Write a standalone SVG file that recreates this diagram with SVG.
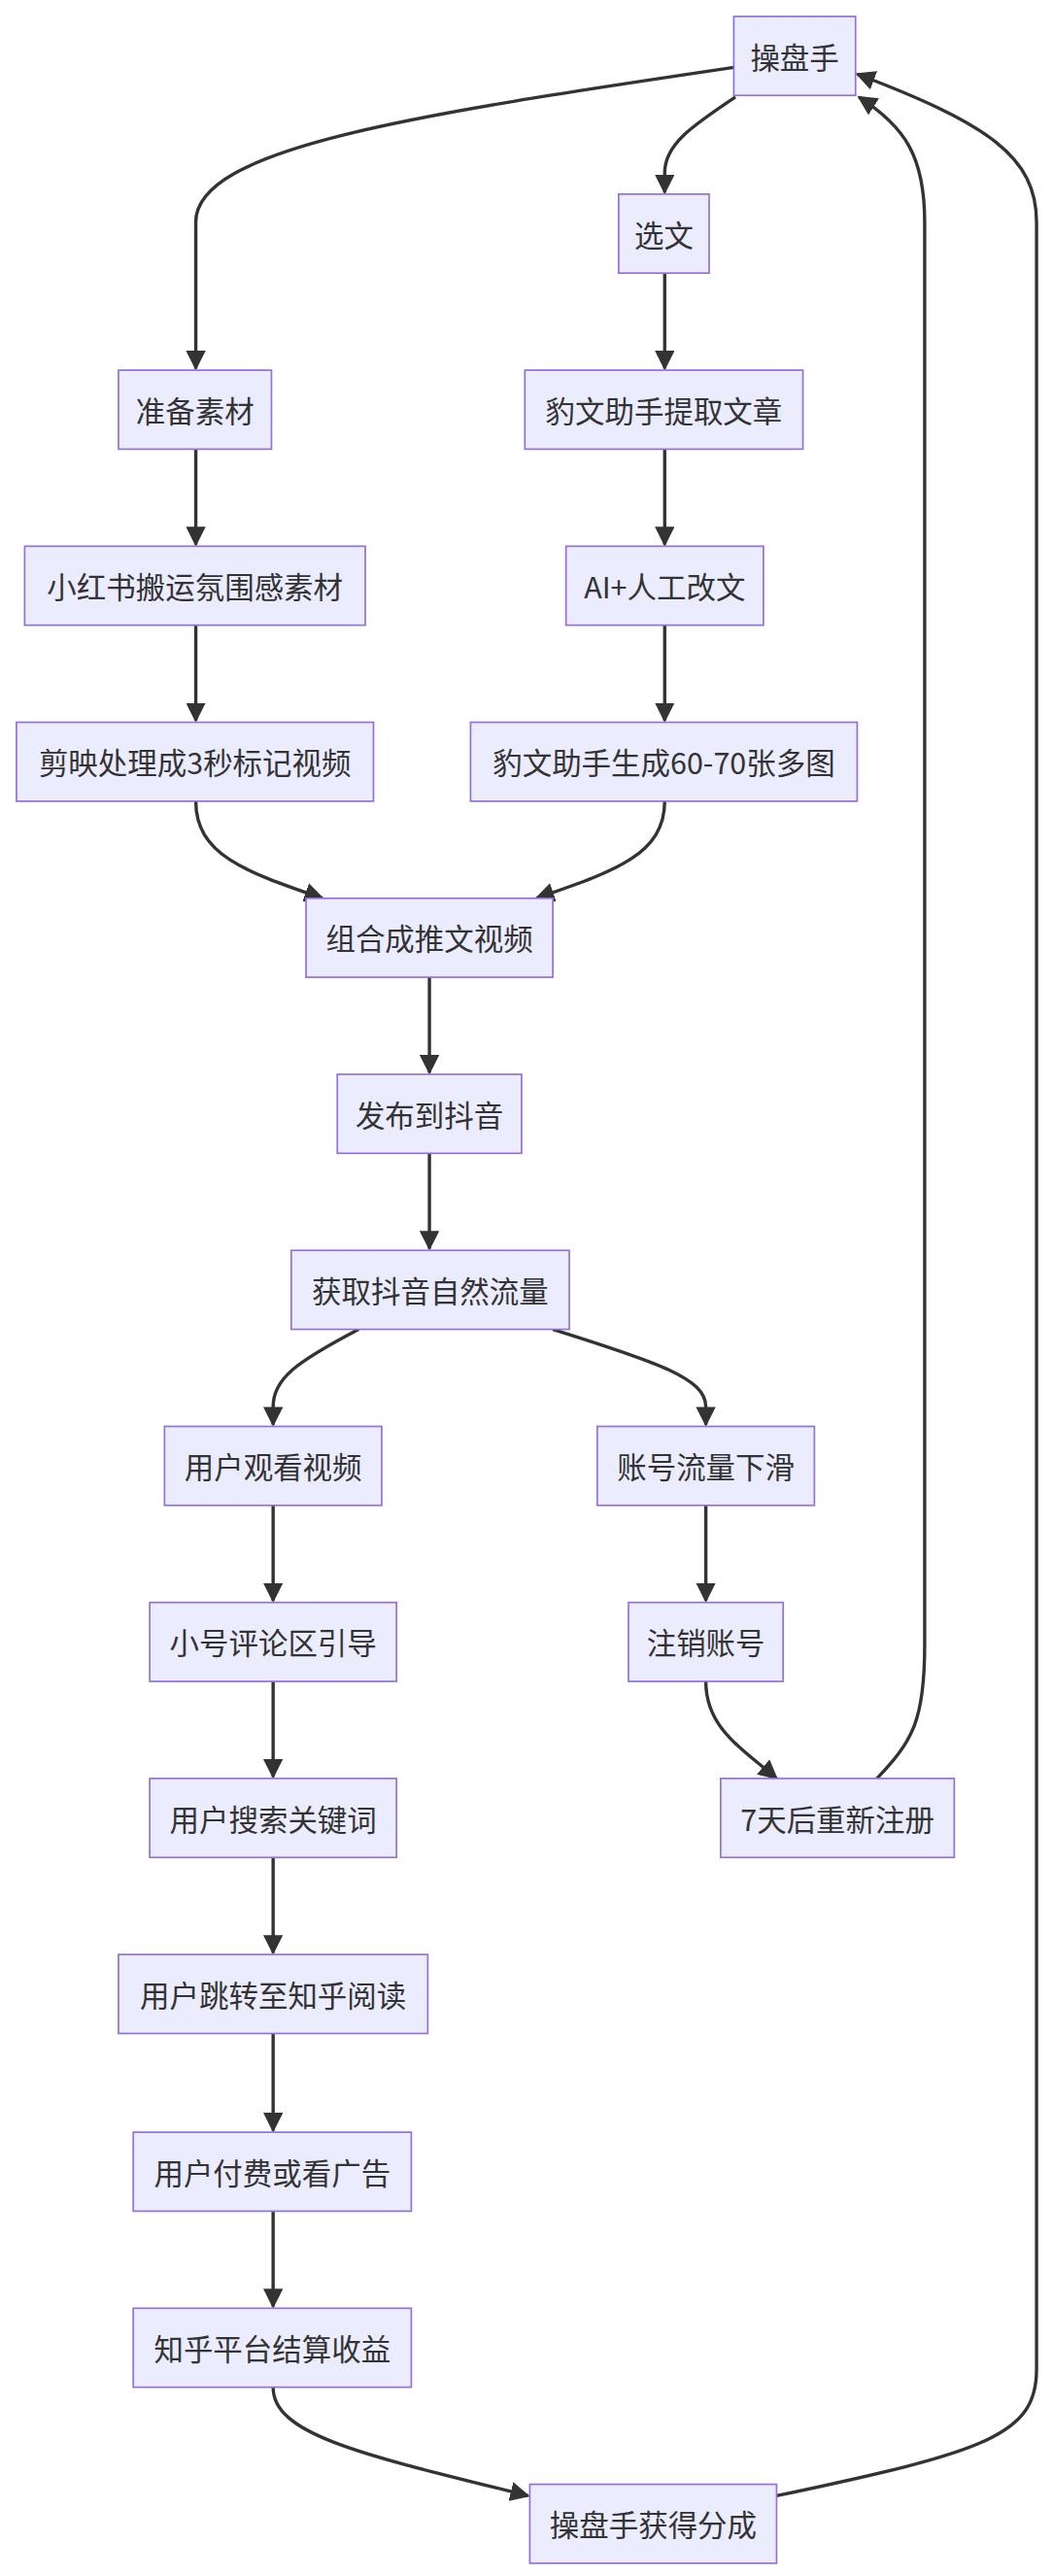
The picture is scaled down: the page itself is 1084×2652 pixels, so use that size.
<svg xmlns="http://www.w3.org/2000/svg" width="1084" height="2652" viewBox="0 0 1084 2652">
<style>
.n rect{fill:#ECECFF;stroke:#9370DB;stroke-width:1}
.n text{font-family:"Noto Sans CJK SC","Liberation Sans",sans-serif;font-size:18px;fill:#333;text-anchor:middle;dominant-baseline:central}
.e path{fill:none;stroke:#333;stroke-width:2}
</style>
<defs>
<marker id="a" viewBox="0 0 10 10" refX="9" refY="5" markerWidth="12" markerHeight="12" markerUnits="userSpaceOnUse" orient="auto"><path d="M0,0 L10,5 L0,10 z" fill="#333"/></marker>
</defs>
<rect width="1084" height="2652" fill="#fff"/>
<g transform="scale(1.69375)">
<g class="e" marker-end="url(#a)">
<path d="M446,41 C250,70 119,90 119,135 L119,224" marker-end="url(#a)"/>
<path d="M447,59 C420,77 404,88 404,105 L404,117" marker-end="url(#a)"/>
<path d="M404,166 L404,224" marker-end="url(#a)"/>
<path d="M404,273 L404,331" marker-end="url(#a)"/>
<path d="M404,380 L404,438" marker-end="url(#a)"/>
<path d="M119,273 L119,331" marker-end="url(#a)"/>
<path d="M119,380 L119,438" marker-end="url(#a)"/>
<path d="M119,487 C119,520 150,530 196,546" marker-end="url(#a)"/>
<path d="M404,487 C404,520 372,530 326,546" marker-end="url(#a)"/>
<path d="M261,594 L261,652" marker-end="url(#a)"/>
<path d="M261,701 L261,759" marker-end="url(#a)"/>
<path d="M218,808 C180,828 166,838 166,855 L166,866" marker-end="url(#a)"/>
<path d="M336,808 C400,828 429,838 429,855 L429,866" marker-end="url(#a)"/>
<path d="M166,915 L166,973" marker-end="url(#a)"/>
<path d="M166,1022 L166,1080" marker-end="url(#a)"/>
<path d="M166,1129 L166,1187" marker-end="url(#a)"/>
<path d="M166,1236 L166,1295" marker-end="url(#a)"/>
<path d="M166,1344 L166,1402" marker-end="url(#a)"/>
<path d="M429,915 L429,973" marker-end="url(#a)"/>
<path d="M429,1022 C429,1050 450,1062 472,1081" marker-end="url(#a)"/>
<path d="M533,1081 C555,1058 562,1045 562,1000 L562,135 C562,95 550,77 522,59" marker-end="url(#a)"/>
<path d="M166,1451 C166,1480 220,1492 321,1517" marker-end="url(#a)"/>
<path d="M472,1517 C600,1490 630,1480 630,1440 L630,135 C630,95 600,75 521,45" marker-end="url(#a)"/>
</g>
<g id="n1" class="n"><rect x="446" y="10" width="74" height="48"/><text x="483" y="34">操盘手</text></g>
<g id="n2" class="n"><rect x="376" y="118" width="55" height="48"/><text x="403.5" y="142">选文</text></g>
<g id="n3" class="n"><rect x="72" y="225" width="93" height="48"/><text x="118.5" y="249">准备素材</text></g>
<g id="n4" class="n"><rect x="319" y="225" width="169" height="48"/><text x="403.5" y="249">豹文助手提取文章</text></g>
<g id="n5" class="n"><rect x="15" y="332" width="207" height="48"/><text x="118.5" y="356">小红书搬运氛围感素材</text></g>
<g id="n6" class="n"><rect x="344" y="332" width="120" height="48"/><text x="404" y="356">AI+人工改文</text></g>
<g id="n7" class="n"><rect x="10" y="439" width="217" height="48"/><text x="118.5" y="463">剪映处理成3秒标记视频</text></g>
<g id="n8" class="n"><rect x="286" y="439" width="235" height="48"/><text x="403.5" y="463">豹文助手生成60-70张多图</text></g>
<g id="n9" class="n"><rect x="186" y="546" width="150" height="48"/><text x="261" y="570">组合成推文视频</text></g>
<g id="n10" class="n"><rect x="205" y="653" width="112" height="48"/><text x="261" y="677">发布到抖音</text></g>
<g id="n11" class="n"><rect x="177" y="760" width="169" height="48"/><text x="261.5" y="784">获取抖音自然流量</text></g>
<g id="n12" class="n"><rect x="100" y="867" width="132" height="48"/><text x="166" y="891">用户观看视频</text></g>
<g id="n13" class="n"><rect x="363" y="867" width="132" height="48"/><text x="429" y="891">账号流量下滑</text></g>
<g id="n14" class="n"><rect x="91" y="974" width="150" height="48"/><text x="166" y="998">小号评论区引导</text></g>
<g id="n15" class="n"><rect x="382" y="974" width="94" height="48"/><text x="429" y="998">注销账号</text></g>
<g id="n16" class="n"><rect x="91" y="1081" width="150" height="48"/><text x="166" y="1105">用户搜索关键词</text></g>
<g id="n17" class="n"><rect x="438" y="1081" width="142" height="48"/><text x="509" y="1105">7天后重新注册</text></g>
<g id="n18" class="n"><rect x="72" y="1188" width="188" height="48"/><text x="166" y="1212">用户跳转至知乎阅读</text></g>
<g id="n19" class="n"><rect x="81" y="1296" width="169" height="48"/><text x="165.5" y="1320">用户付费或看广告</text></g>
<g id="n20" class="n"><rect x="81" y="1403" width="169" height="48"/><text x="165.5" y="1427">知乎平台结算收益</text></g>
<g id="n21" class="n"><rect x="322" y="1510" width="150" height="48"/><text x="397" y="1534">操盘手获得分成</text></g>
</g>
</svg>
